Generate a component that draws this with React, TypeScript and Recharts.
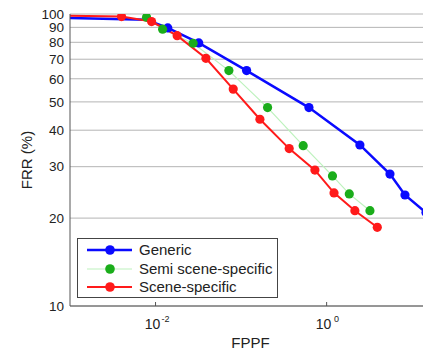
import { LineChart, Line, CartesianGrid, XAxis, YAxis, Legend } from "recharts";

const genericFppf = [0.001, 0.0078, 0.0139, 0.032, 0.116, 0.621, 2.45, 5.5, 8.24, 14.5];
const genericFrr = [96.8, 95.5, 89.6, 79.6, 64, 47.8, 35.6, 28.3, 24.0, 20.9];

const semiFppf = [0.00785, 0.0121, 0.0275, 0.072, 0.204, 0.532, 1.17, 1.84, 3.21];
const semiFrr = [97.5, 88.7, 79.4, 64, 47.8, 35.4, 27.9, 24.2, 21.2];

const sceneFppf = [0.001, 0.004, 0.00898, 0.0179, 0.0388, 0.0809, 0.166, 0.365, 0.73, 1.22, 2.14, 3.91];
const sceneFrr = [98.6, 98, 94.2, 84.3, 70.5, 55.3, 43.6, 34.6, 29.2, 24.4, 21.2, 18.6];

const xTicks = [0.01, 1];
const xTickExp = ["-2", "0"];
const yTicks = [10, 20, 30, 40, 50, 60, 70, 80, 90, 100];

const toPoints = (xs: number[], ys: number[]) => xs.map((x, i) => ({ x, y: ys[i] }));

const FONT = "'Liberation Sans', Arial, Helvetica, sans-serif";

const series = [
  { name: "Generic", data: toPoints(genericFppf, genericFrr), line: "#0a0aff", dot: "#0a0aff", width: 2.5, hide: 2 },
  { name: "Semi scene-specific", data: toPoints(semiFppf, semiFrr), line: "#bdf2bd", dot: "#1aad1a", width: 1.2, hide: 0 },
  { name: "Scene-specific", data: toPoints(sceneFppf, sceneFrr), line: "#ff1a1a", dot: "#ff1a1a", width: 2, hide: 1 },
];

const makeDot = (color: string, hide: number) => (props: any) => {
  const { cx, cy, index } = props;
  if (index < hide || cx == null || cy == null) return <g key={`d${index}`} />;
  return <circle key={`d${index}`} cx={cx} cy={cy} r={4.6} fill={color} stroke="none" />;
};

const XTick = (props: any) => {
  const { x, y, payload, index } = props;
  return (
    <g>
      <line x1={x} y1={y} x2={x} y2={y - 4} stroke="#555" strokeWidth={1} />
      <text x={x - 3} y={y + 23} textAnchor="middle" fontFamily={FONT} fontSize={14} fill="#222">
        10
      </text>
      <text x={x + 10} y={y + 16} textAnchor="middle" fontFamily={FONT} fontSize={9} fill="#222">
        {xTickExp[index] ?? String(Math.round(Math.log10(payload.value)))}
      </text>
    </g>
  );
};

const LegendBox = () => (
  <div
    style={{
      width: 201,
      height: 60,
      boxSizing: "border-box",
      border: "1px solid #444",
      background: "#fff",
      position: "relative",
      fontFamily: FONT,
      fontSize: 15,
      color: "#222",
    }}
  >
    {series.map((s, i) => (
      <div
        key={s.name}
        style={{
          position: "absolute",
          left: 9,
          top: 2 + i * 18.7,
          height: 18,
          display: "flex",
          alignItems: "center",
          whiteSpace: "nowrap",
        }}
      >
        <svg width={46} height={18} style={{ display: "block" }}>
          <line x1={0} y1={9} x2={45} y2={9} stroke={s.line} strokeWidth={s.width} />
          <circle cx={23} cy={9} r={4.8} fill={s.dot} />
        </svg>
        <span style={{ marginLeft: 6, lineHeight: "18px" }}>{s.name}</span>
      </div>
    ))}
  </div>
);

export default function App() {
  return (
    <div style={{ background: "#fff", marginTop: -6 }}>
      <LineChart width={423} height={350} margin={{ top: 12, right: 0, bottom: 0, left: 0 }}>
        <CartesianGrid vertical={false} stroke="#b4b4b4" strokeWidth={1} />
        <XAxis
          type="number"
          dataKey="x"
          scale="log"
          domain={[0.001, 16.6]}
          allowDataOverflow
          ticks={xTicks}
          interval={0}
          height={46}
          tickSize={0}
          tickMargin={0}
          tickLine={false}
          axisLine={{ stroke: "#555" }}
          tick={<XTick />}
          label={{
            content: (p: any) => {
              const vb = p.viewBox || { x: 62, width: 361, y: 304 };
              return (
                <text
                  x={vb.x + vb.width / 2}
                  y={vb.y + 42}
                  textAnchor="middle"
                  fontFamily={FONT}
                  fontSize={15}
                  fill="#222"
                >
                  FPPF
                </text>
              );
            },
          }}
        />
        <YAxis
          type="number"
          dataKey="y"
          scale="log"
          domain={[10, 100]}
          allowDataOverflow
          ticks={yTicks}
          interval={0}
          width={62}
          tickSize={0}
          tickMargin={6}
          tickLine={false}
          axisLine={{ stroke: "#555" }}
          tick={{ fontFamily: FONT, fontSize: 13.5, fill: "#222" }}
          label={{
            content: (p: any) => {
              const vb = p.viewBox || { x: 0, y: 12, height: 292 };
              const cx = vb.x + 18;
              const cy = vb.y + vb.height / 2;
              return (
                <text
                  x={cx}
                  y={cy}
                  transform={`rotate(-90 ${cx} ${cy})`}
                  textAnchor="middle"
                  dominantBaseline="central"
                  fontFamily={FONT}
                  fontSize={15}
                  fill="#222"
                >
                  FRR (%)
                </text>
              );
            },
          }}
        />
        {series.map((s) => (
          <Line
            key={s.name}
            name={s.name}
            data={s.data}
            dataKey="y"
            type="linear"
            stroke={s.line}
            strokeWidth={s.width}
            dot={makeDot(s.dot, s.hide)}
            activeDot={false}
            isAnimationActive={false}
          />
        ))}
        <Legend
          layout="vertical"
          align="center"
          verticalAlign="middle"
          wrapperStyle={{ left: 69, top: 236, width: 201, height: 60 }}
          content={() => <LegendBox />}
        />
      </LineChart>
    </div>
  );
}
